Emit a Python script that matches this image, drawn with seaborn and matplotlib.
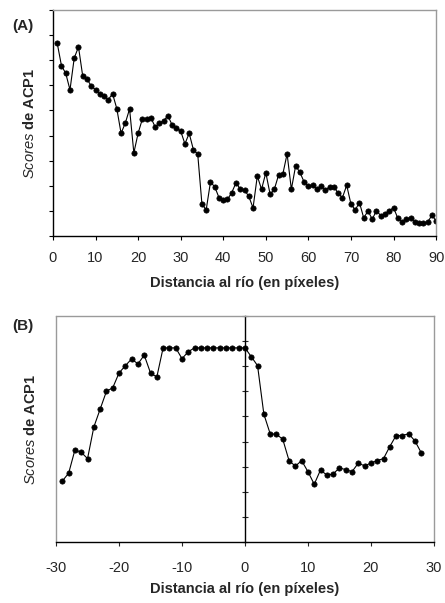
import numpy as np
import matplotlib
matplotlib.use("Agg")
import matplotlib.pyplot as plt
import seaborn as sns

# Panel A: distance to river (pixels) vs PCA1 scores
dist_a = list(range(1, 91))
scores_a = [7.68, 6.78, 6.48, 5.82, 7.09, 7.53, 6.36, 6.24, 5.98, 5.82,
            5.65, 5.57, 5.43, 5.67, 5.07, 4.09, 4.50, 5.06, 3.31, 4.09,
            4.66, 4.66, 4.71, 4.35, 4.49, 4.59, 4.79, 4.42, 4.29, 4.18,
            3.67, 4.09, 3.43, 3.27, 1.26, 1.05, 2.15, 1.96, 1.53, 1.45,
            1.46, 1.73, 2.12, 1.87, 1.83, 1.58, 1.12, 2.39, 1.86, 2.52,
            1.67, 1.86, 2.43, 2.47, 3.27, 1.86, 2.79, 2.54, 2.15, 1.99,
            2.02, 1.86, 1.98, 1.83, 1.96, 1.96, 1.70, 1.53, 2.02, 1.27,
            1.04, 1.33, 0.72, 1.00, 0.67, 1.01, 0.81, 0.88, 1.00, 1.13,
            0.71, 0.56, 0.68, 0.72, 0.57, 0.52, 0.52, 0.55, 0.82, 0.61]

# Panel B: signed distance to river
dist_b = list(range(-29, 29))
scores_b = [2.43, 2.74, 3.67, 3.57, 3.32, 4.58, 5.29, 6.00, 6.14, 6.73,
            7.02, 7.29, 7.09, 7.44, 6.73, 6.57, 7.73, 7.73, 7.73, 7.30,
            7.58, 7.73, 7.73, 7.73, 7.73, 7.73, 7.73, 7.73, 7.73, 7.73,
            7.38, 7.02, 5.09, 4.31, 4.29, 4.09, 3.24, 3.02, 3.24, 2.80,
            2.30, 2.87, 2.66, 2.71, 2.95, 2.88, 2.80, 3.14, 3.03, 3.14,
            3.24, 3.32, 3.80, 4.24, 4.24, 4.31, 4.02, 3.55]

xticks_a = list(range(0, 91, 10))
xticks_b = list(range(-30, 31, 10))
ylabel = r"$\it{Scores}$ $\bf{de\ ACP1}$"
xlabel = "Distancia al río (en píxeles)"

sns.set_style("ticks")
plt.rcParams["font.family"] = ["Liberation Sans", "DejaVu Sans"]
plt.rcParams["mathtext.fontset"] = "custom"
plt.rcParams["mathtext.it"] = "Liberation Sans:italic"
plt.rcParams["mathtext.bf"] = "Liberation Sans:bold"
plt.rcParams["mathtext.rm"] = "Liberation Sans"
plt.rcParams["axes.unicode_minus"] = False

fig = plt.figure(figsize=(4.45, 6.03), dpi=100)
axA = fig.add_axes([0.119, 0.6086, 0.861, 0.3748])
axB = fig.add_axes([0.126, 0.1012, 0.849, 0.3748])

line_kw = dict(color="black", marker="o", markersize=3.8, linewidth=0.8,
               markeredgecolor="black", markeredgewidth=0.5)
gray = "#9a9a9a"

# --- panel A ---
sns.lineplot(x=dist_a, y=scores_a, ax=axA, **line_kw)
axA.set_xlim(0, 90)
axA.set_ylim(0, 9)
axA.set_xticks(xticks_a)
axA.set_yticks(np.arange(0, 10))
axA.set_yticklabels([])
axA.tick_params(axis="both", direction="out", length=3, width=0.8,
                labelsize=10.5, pad=8, color="black")
axA.spines["left"].set_color("black")
axA.spines["bottom"].set_color("black")
axA.spines["top"].set_visible(True)
axA.spines["right"].set_visible(True)
axA.spines["top"].set_color(gray)
axA.spines["right"].set_color(gray)
for s in axA.spines.values():
    s.set_linewidth(1.0)
axA.set_xlabel(xlabel, fontsize=10.5, fontweight="bold")
axA.set_ylabel(ylabel, fontsize=10.5)
axA.xaxis.set_label_coords(0.5, -0.175)
axA.yaxis.set_label_coords(-0.042, 0.5)

# --- panel B ---
sns.lineplot(x=dist_b, y=scores_b, ax=axB, **line_kw)
axB.set_xlim(-30, 30)
axB.set_ylim(0, 9)
axB.set_xticks(xticks_b)
axB.set_yticks(np.arange(0, 10))
axB.set_yticklabels([])
axB.spines["left"].set_position(("data", 0))
axB.spines["left"].set_color("black")
axB.spines["bottom"].set_color("black")
axB.spines["top"].set_visible(True)
axB.spines["right"].set_visible(True)
axB.spines["top"].set_color(gray)
axB.spines["right"].set_color(gray)
for s in axB.spines.values():
    s.set_linewidth(1.0)
axB.tick_params(axis="y", direction="inout", length=4, width=0.8)
axB.tick_params(axis="x", direction="out", length=3, width=0.8,
                labelsize=10.5, pad=11)
axB.plot([0, 0], [0, 1], transform=axB.transAxes, color=gray,
         linewidth=1.0, clip_on=False)
axB.set_xlabel(xlabel, fontsize=10.5, fontweight="bold")
axB.set_ylabel(ylabel, fontsize=10.5)
axB.xaxis.set_label_coords(0.5, -0.175)
axB.yaxis.set_label_coords(-0.048, 0.5)

fig.text(12 / 445, 1 - 26 / 603, "(A)", fontsize=11, fontweight="bold",
         ha="left", va="center")
fig.text(12 / 445, 1 - 326 / 603, "(B)", fontsize=11, fontweight="bold",
         ha="left", va="center")

fig.savefig("out.png", dpi=100)
